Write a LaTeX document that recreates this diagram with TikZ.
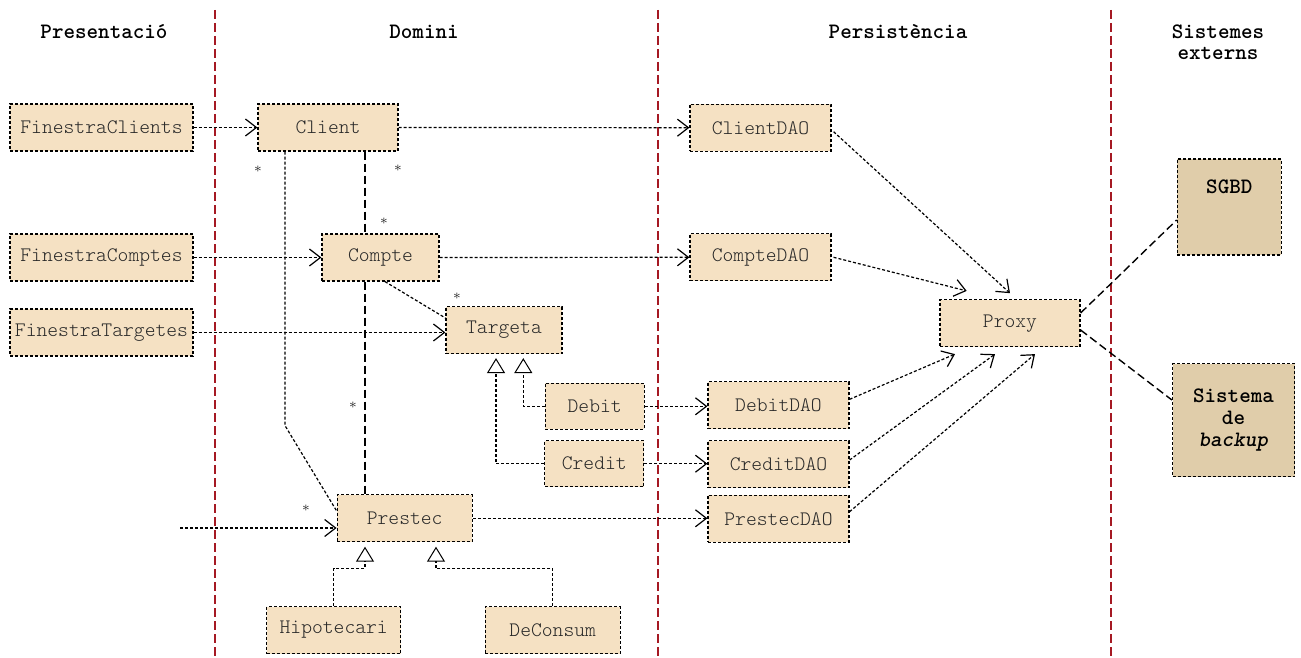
\documentclass[tikz,border=0pt]{standalone}
\usepackage{fontspec}
\setmonofont{lmmonolt10}[Extension=.otf,UprightFont=*-regular,BoldFont=*-bold,
  ItalicFont=*-oblique,BoldItalicFont=*-boldoblique]
\usetikzlibrary{arrows.meta,calc}
\definecolor{boxfill}{RGB}{245,225,195}
\definecolor{extfill}{RGB}{224,205,170}
\definecolor{layerred}{RGB}{165,25,35}
\definecolor{ink}{RGB}{40,40,40}
\begin{document}
\begin{tikzpicture}[x=0.5pt,y=-0.5pt,
  cls/.style={draw,fill=boxfill,line width=0.6pt,dash pattern=on 1.5pt off 1pt,
    font=\ttfamily\fontsize{10.3}{11}\selectfont,text=ink,minimum height=23.5pt,inner sep=0pt},
  ext/.style={cls,fill=extfill,text=black,font=\ttfamily\bfseries\fontsize{11}{11}\selectfont,align=center},
  hdr/.style={font=\ttfamily\bfseries\fontsize{11}{10.5}\selectfont,align=center,inner sep=0pt},
  layer/.style={draw=layerred,line width=0.75pt,dash pattern=on 4.5pt off 2pt},
  dep/.style={line width=0.6pt,dash pattern=on 1.5pt off 1pt,
    -{Straight Barb[length=5.5pt,width=8.5pt,line width=0.6pt]}},
  gen/.style={line width=0.6pt,dash pattern=on 1.5pt off 1pt,
    -{Triangle[open,length=7.5pt,width=9pt,line width=0.5pt]}},
  link/.style={line width=0.6pt,dash pattern=on 1.5pt off 1pt},
  assoc/.style={line width=0.7pt,dash pattern=on 4pt off 2pt},
  mult/.style={font=\fontsize{7}{7}\selectfont,text=ink,inner sep=0pt}]
\useasboundingbox (0,0) rectangle (1301,658);

% layer separators
\draw[layer] (215,10) -- (215,658);
\draw[layer] (658,10) -- (658,658);
\draw[layer] (1111,10) -- (1111,658);

% layer titles
\node[hdr] (hpres) at (104,32) {Presentació};
\node[hdr] (hdom) at (424,32) {Domini};
\node[hdr] (hpers) at (898,32) {Persistència};
\node[hdr] (hext) at (1218,42) {Sistemes\\externs};

% presentation
\node[cls,minimum width=91.5pt] (fclients) at (101.5,127.5) {FinestraClients};
\node[cls,minimum width=91.5pt] (fcomptes) at (101.5,257.5) {FinestraComptes};
\node[cls,minimum width=91.5pt] (ftargetes) at (101.5,332.5) {FinestraTargetes};

% domain
\node[cls,minimum width=70pt] (client) at (328,127.5) {Client};
\node[cls,minimum width=58.5pt] (compte) at (380.5,257.5) {Compte};
\node[cls,minimum width=58pt] (targeta) at (504,330) {Targeta};
\node[cls,minimum width=49.5pt,minimum height=23pt] (debit) at (594.7,406.3) {Debit};
\node[cls,minimum width=49.5pt,minimum height=23pt] (credit) at (594.3,463.7) {Credit};
\node[cls,minimum width=67.5pt] (prestec) at (404.7,518.3) {Prestec};
\node[cls,minimum width=67pt] (hipo) at (333.7,630) {Hipotecari};
\node[cls,minimum width=67.5pt] (consum) at (552.7,630) {DeConsum};

% persistence
\node[cls,minimum width=70.5pt] (clientdao) at (760.5,127.7) {ClientDAO};
\node[cls,minimum width=70.5pt] (comptedao) at (760.5,257.3) {CompteDAO};
\node[cls,minimum width=70.5pt] (debitdao) at (778.5,405.3) {DebitDAO};
\node[cls,minimum width=70.5pt] (creditdao) at (778.5,464) {CreditDAO};
\node[cls,minimum width=70.5pt] (prestecdao) at (778.5,518.7) {PrestecDAO};
\node[cls,minimum width=70pt] (proxy) at (1010,323.3) {Proxy};

% external systems
\node[ext,minimum width=52pt,minimum height=48pt,
  label={[font=\ttfamily\bfseries\fontsize{11}{11}\selectfont,anchor=north,yshift=-7pt]north:SGBD}]
  (sgbd) at (1229.3,207) {};
\node[ext,minimum width=61pt,minimum height=56.5pt] (backup) at (1233.5,420)
  {Sistema\\de\\\textit{backup}};

% dependencies
\coordinate (prestecin) at (180,528);
\draw[dep] (fclients.east) -- (client.west);
\draw[dep] (client.east) -- (clientdao.west);
\draw[dep] (fcomptes.east) -- (compte.west);
\draw[dep] (compte.east) -- (comptedao.west);
\draw[dep] (ftargetes.east) -- (ftargetes.east -| targeta.west);
\draw[dep] (debit.east) -- (debit.east -| debitdao.west);
\draw[dep] (credit.east) -- (credit.east -| creditdao.west);
\draw[dep] (prestec.east) -- (prestec.east -| prestecdao.west);
\draw[dep] (prestecin) -- (prestecin -| prestec.west);

\draw[dep] ($(clientdao.east)+(2,4)$) -- ($(proxy.north)+(0,-6)$);
\draw[dep] ($(comptedao.east)+(2,0)$) -- ($(proxy.north)+(-43.3,-8.3)$);
\draw[dep] ($(debitdao.east)+(0,-6)$) -- ($(proxy.south)+(-55,6.7)$);
\draw[dep] ($(creditdao.east)+(0,-4)$) -- ($(proxy.south)+(-15,6.7)$);
\draw[dep] ($(prestecdao.east)+(0,-7)$) -- ($(proxy.south)+(25,6.7)$);

% links to external systems
\draw[assoc] ($(proxy.east)+(0,-10.3)$) -- ($(sgbd.west)+(0,13)$);
\draw[assoc] ($(proxy.east)+(0,6.7)$) -- ($(backup.west)+(0,-20)$);

% associations
\draw[assoc] ($(client.south)+(37,0)$) -- ($(compte.north)+(-15.5,0)$);
\draw[assoc] ($(compte.south)+(-15.5,0)$) -- ($(prestec.north)+(-39.7,0)$);
\draw[link] ($(client.south)+(-43,0)$) -- ++(0,274) -- ($(prestec.north west)+(0,16.7)$);
\draw[link] ($(compte.south)+(4.5,0)$) -- ($(targeta.west)+(0,-12)$);

% multiplicities
\node[mult] (m1) at (258,169) {$\ast$};
\node[mult] (m2) at (398,168) {$\ast$};
\node[mult] (m3) at (384,221) {$\ast$};
\node[mult] (m4) at (457,296) {$\ast$};
\node[mult] (m5) at (353,405) {$\ast$};
\node[mult] (m6) at (306,508) {$\ast$};

% generalizations
\draw[gen] (debit.west) -| ($(targeta.south)+(19.3,4)$);
\draw[gen] (credit.west) -| ($(targeta.south)+(-8,4)$);
\draw[gen] (hipo.north) -- ++(0,-37.7) -| ($(prestec.south)+(-39.7,4.3)$);
\draw[gen] (consum.north) -- ++(0,-37.7) -| ($(prestec.south)+(31.3,4.3)$);
\end{tikzpicture}
\end{document}
